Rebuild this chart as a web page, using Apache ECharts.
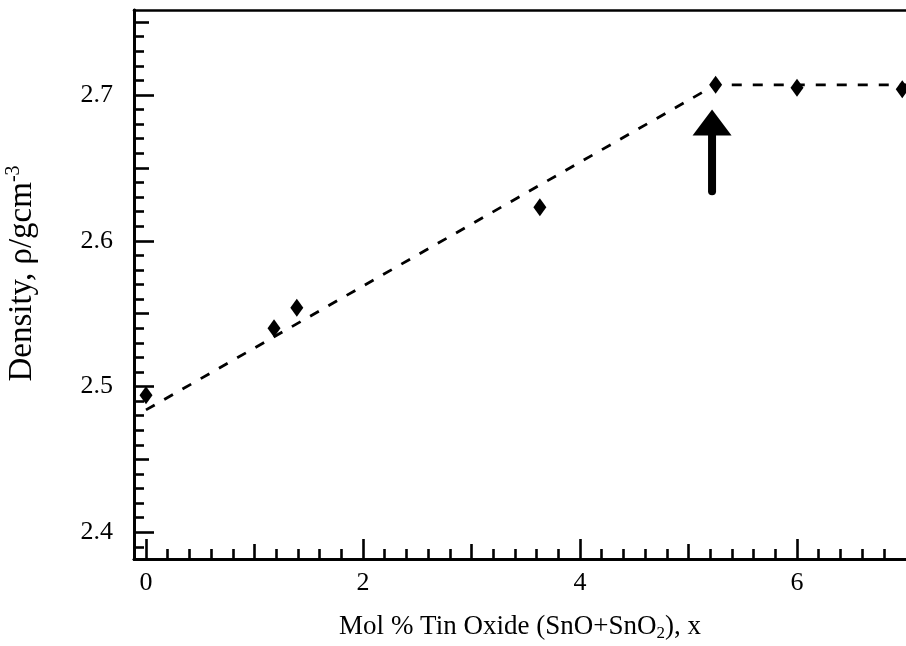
<!DOCTYPE html>
<html><head><meta charset="utf-8">
<script src="https://cdn.jsdelivr.net/npm/echarts@6/dist/echarts.min.js"></script>
<style>html,body{margin:0;padding:0;background:#fff}#c{width:906px;height:646px}</style>
</head><body><div id="c"></div>
<script>
// ---- data ----
const molPct  = [0, 1.18, 1.39, 3.63, 5.25, 6.0, 6.97];
const density = [2.494, 2.540, 2.554, 2.623, 2.707, 2.705, 2.704];
const fitX = [0, 5.25, 7.02];
const fitY = [2.484, 2.707, 2.707];
const arrowX = [5.217, 5.217];      // tail, tip
const arrowY = [2.634, 2.690];
const xLabels = [0, 2, 4, 6];
const xMajorTicks = [0, 2, 4, 6];
const xMidTicks = [1, 3, 5];
const xMinorTicks = [0.2,0.4,0.6,0.8,1.2,1.4,1.6,1.8,2.2,2.4,2.6,2.8,3.2,3.4,3.6,3.8,4.2,4.4,4.6,4.8,5.2,5.4,5.6,5.8,6.2,6.4,6.6,6.8];
const yLabels = [2.4, 2.5, 2.6, 2.7];
const yMajorTicks = [2.4, 2.5, 2.6, 2.7];
const yMidTicks = [2.45, 2.55, 2.65, 2.75];
const yMinorTicks = [2.39,2.41,2.42,2.43,2.44,2.46,2.47,2.48,2.49,2.51,2.52,2.53,2.54,2.56,2.57,2.58,2.59,2.61,2.62,2.63,2.64,2.66,2.67,2.68,2.69,2.71,2.72,2.73,2.74];

// ---- layout / style ----
const X_MIN = -0.1106, X_MAX = 7.0046, Y_MIN = 2.3817, Y_MAX = 2.7583;
const FONT = '"Liberation Serif", "Times New Roman", serif';
const INK = '#000';
const LW = 2.6;

function xAx(ticks, len, extra) {
  return Object.assign({
    type: 'value', min: X_MIN, max: X_MAX, position: 'bottom',
    splitLine: {show: false},
    axisLine: {show: true, onZero: false, lineStyle: {color: INK, width: LW}},
    axisTick: {show: true, inside: true, length: len, customValues: ticks, lineStyle: {color: INK, width: LW}},
    axisLabel: {show: false}
  }, extra || {});
}
function yAx(ticks, len, extra) {
  return Object.assign({
    type: 'value', min: Y_MIN, max: Y_MAX, position: 'left',
    splitLine: {show: false},
    axisLine: {show: true, onZero: false, lineStyle: {color: INK, width: LW}},
    axisTick: {show: true, inside: true, length: len, customValues: ticks, lineStyle: {color: INK, width: LW}},
    axisLabel: {show: false}
  }, extra || {});
}

const chart = echarts.init(document.getElementById('c'), null, {renderer: 'canvas'});
chart.setOption({
  animation: false,
  backgroundColor: '#fff',
  grid: {left: 134, right: 0, top: 10, bottom: 87, containLabel: false, outerBoundsMode: 'none'},
  xAxis: [
    xAx(xMajorTicks, 20, {
      axisLabel: {show: true, customValues: xLabels, margin: 11, color: INK, fontFamily: FONT, fontSize: 26,
                  formatter: v => String(Math.round(v))},
      name: '{t|Mol % Tin Oxide (SnO+SnO}{s|2}{t|), x}',
      nameLocation: 'middle', nameGap: 53,
      nameTextStyle: {rich: {
        t: {fontFamily: FONT, fontSize: 27, color: INK, lineHeight: 30},
        s: {fontFamily: FONT, fontSize: 17, color: INK, lineHeight: 10, verticalAlign: 'bottom'}
      }}
    }),
    xAx(xMidTicks, 15),
    xAx(xMinorTicks, 10),
    {type: 'value', min: X_MIN, max: X_MAX, position: 'top', splitLine: {show: false},
     axisLine: {show: true, onZero: false, lineStyle: {color: INK, width: LW}},
     axisTick: {show: false}, axisLabel: {show: false}}
  ],
  yAxis: [
    yAx(yMajorTicks, 20, {
      axisLabel: {show: true, customValues: yLabels, margin: 21, color: INK, fontFamily: FONT, fontSize: 26,
                  formatter: v => v.toFixed(1)},
      name: '{t|Density, ρ/gcm}{s|-3}',
      nameLocation: 'middle', nameGap: 94,
      nameTextStyle: {padding: [0, 0, 0, 22], rich: {
        t: {fontFamily: FONT, fontSize: 33, color: INK, lineHeight: 36},
        s: {fontFamily: FONT, fontSize: 20, color: INK, lineHeight: 14, verticalAlign: 'top'}
      }}
    }),
    yAx(yMidTicks, 15),
    yAx(yMinorTicks, 10)
  ],
  series: [
    {
      type: 'line', xAxisIndex: 0, yAxisIndex: 0,
      data: fitX.map((x, i) => [x, fitY[i]]),
      showSymbol: false, symbol: 'none',
      lineStyle: {color: INK, width: 2.8, type: [10, 11]},
      z: 2
    },
    {
      type: 'scatter', xAxisIndex: 0, yAxisIndex: 0,
      data: molPct.map((x, i) => [x, density[i]]),
      symbol: 'diamond', symbolSize: [13, 18],
      itemStyle: {color: INK, opacity: 1},
      clip: false, z: 3
    },
    {
      type: 'custom', xAxisIndex: 0, yAxisIndex: 0, clip: false, z: 4,
      data: [[arrowX[0], arrowY[0], arrowX[1], arrowY[1]]],
      renderItem: function (params, api) {
        const tail = api.coord([api.value(0), api.value(1)]);
        const tip = api.coord([api.value(2), api.value(3)]);
        const headH = 26, headW = 39;
        return {type: 'group', children: [
          {type: 'line', shape: {x1: tail[0], y1: tail[1], x2: tip[0], y2: tip[1] + headH - 2},
           style: {stroke: INK, lineWidth: 8, lineCap: 'round'}},
          {type: 'polygon', shape: {points: [[tip[0], tip[1]], [tip[0] - headW / 2, tip[1] + headH], [tip[0] + headW / 2, tip[1] + headH]]},
           style: {fill: INK}}
        ]};
      }
    }
  ]
});
</script>
</body></html>
